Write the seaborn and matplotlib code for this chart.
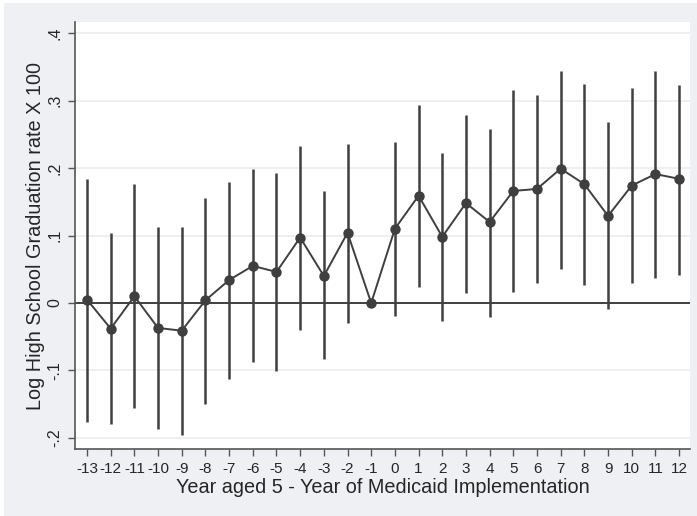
import numpy as np
import pandas as pd
import matplotlib
matplotlib.use("Agg")
import matplotlib.pyplot as plt
from matplotlib.patches import Rectangle
import seaborn as sns

# Event-study estimates: effect of Medicaid on log HS graduation rate (x100)
years = [-13, -12, -11, -10, -9, -8, -7, -6, -5, -4, -3, -2, -1,
         0, 1, 2, 3, 4, 5, 6, 7, 8, 9, 10, 11, 12]
coef = [0.005, -0.038, 0.010, -0.037, -0.041, 0.004, 0.034, 0.055, 0.046,
        0.097, 0.040, 0.104, 0.000,
        0.110, 0.159, 0.098, 0.148, 0.120, 0.166, 0.169, 0.199, 0.176,
        0.129, 0.174, 0.191, 0.184]
ci_low = [-0.177, -0.180, -0.156, -0.186, -0.196, -0.149, -0.112, -0.088,
          -0.101, -0.040, -0.083, -0.029, np.nan,
          -0.020, 0.024, -0.027, 0.015, -0.021, 0.017, 0.029, 0.051, 0.027,
          -0.009, 0.030, 0.037, 0.041]
ci_high = [0.184, 0.104, 0.176, 0.113, 0.112, 0.156, 0.179, 0.198, 0.193,
           0.233, 0.166, 0.236, np.nan,
           0.239, 0.293, 0.222, 0.279, 0.258, 0.316, 0.308, 0.344, 0.325,
           0.268, 0.319, 0.343, 0.323]
ytick_vals = [-0.2, -0.1, 0.0, 0.1, 0.2, 0.3, 0.4]
ytick_labels = ["-.2", "-.1", "0", ".1", ".2", ".3", ".4"]

df = pd.DataFrame({"year": years, "coef": coef, "lo": ci_low, "hi": ci_high})

sns.set_theme(style="white")
plt.rcParams["font.family"] = ["Liberation Sans", "DejaVu Sans"]

W, H = 697, 516
fig = plt.figure(figsize=(W / 100, H / 100), dpi=100, facecolor="white")
fig.patches.append(Rectangle((4 / W, 0), 1, 1 - 3 / H, transform=fig.transFigure,
                             facecolor="#eff0f3", edgecolor="none", zorder=-10))

ax = fig.add_axes([75 / W, 1 - 449 / H, (690 - 75) / W, (449 - 22) / H])
ax.set_facecolor("white")

dark = "#3f3f3f"
text_col = "#262626"

# horizontal grid lines and zero reference line
for v in ytick_vals:
    if v != 0:
        ax.axhline(v, color="#ececec", lw=1.2, zorder=0)
ax.axhline(0, color=dark, lw=1.4, zorder=1)

# confidence intervals
ax.vlines(df["year"], df["lo"], df["hi"], color=dark, lw=1.8, zorder=2)

# point estimates connected by a line
sns.lineplot(data=df, x="year", y="coef", ax=ax, color=dark, lw=1.4,
             marker="o", markersize=7.5, markeredgewidth=0,
             markerfacecolor=dark, zorder=3)

ax.set_xlim(-13.507, 12.46)
ax.set_ylim(-0.2163, 0.4163)
ax.set_xticks(years)
ax.set_xticklabels([str(y) for y in years], fontsize=11, color=text_col)
ax.set_yticks(ytick_vals)
ax.set_yticklabels(ytick_labels, fontsize=11.5, rotation=90, va="center",
                   color=text_col)

for side in ["top", "right"]:
    ax.spines[side].set_visible(False)
for side in ["left", "bottom"]:
    ax.spines[side].set_color("#555555")
    ax.spines[side].set_linewidth(1.2)

ax.tick_params(axis="both", which="major", direction="out", length=5,
               width=1.0, color="#555555", bottom=True, left=True)
ax.tick_params(axis="x", pad=4.5)
ax.tick_params(axis="y", pad=4)

ax.set_xlabel("Year aged 5 - Year of Medicaid Implementation", fontsize=14.3,
              color=text_col, labelpad=1)
ax.set_ylabel("Log High School Graduation rate X 100", fontsize=14.3,
              color=text_col, labelpad=2)

fig.savefig("out.png", dpi=100, facecolor=fig.get_facecolor())
